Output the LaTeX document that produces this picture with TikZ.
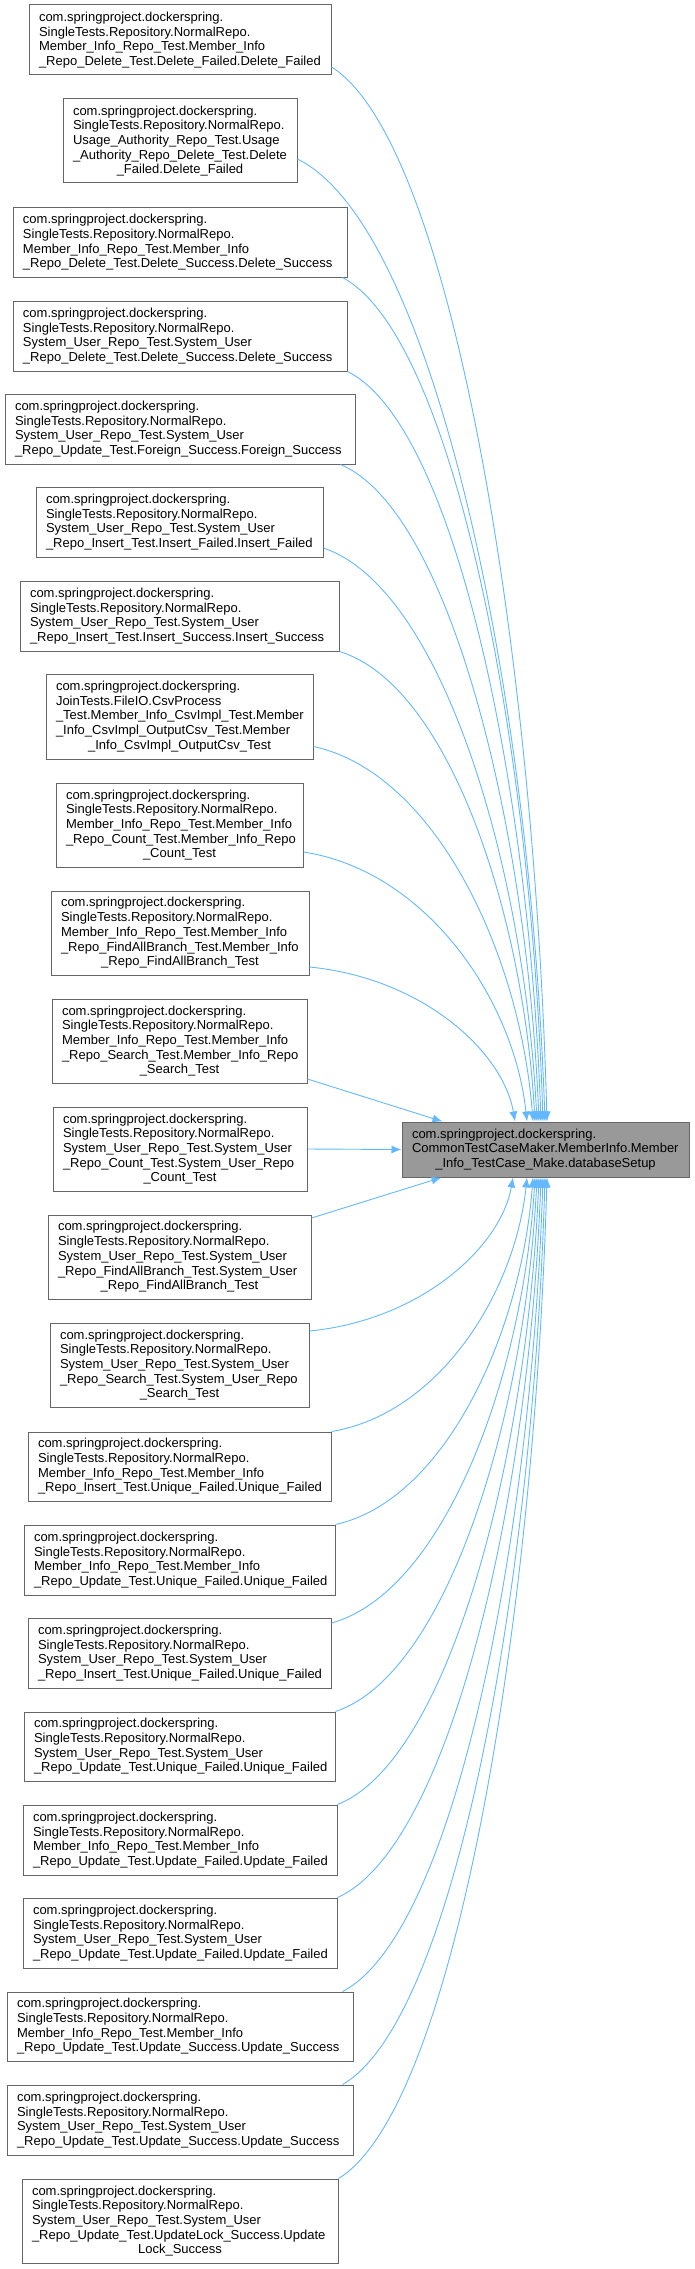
\documentclass[tikz,border=0pt]{standalone}
\usepackage{fontspec}
\setmainfont{Liberation Sans}
\usetikzlibrary{calc, arrows.meta}

\definecolor{edgeblue}{HTML}{63B8FF}
\definecolor{boxline}{HTML}{666666}
\definecolor{boxfill}{HTML}{999999}

\hyphenpenalty=10000
\exhyphenpenalty=10000

% last line of a box label is centred
\newcommand{\lastline}[1]{\hspace*{\fill}#1\hspace*{\fill}\null}

\tikzset{
  caller/.style={draw=boxline, fill=white, line width=1pt, align=left,
    inner xsep=10pt, inner ysep=2pt, font=\fontsize{13}{14.7}\selectfont},
  callee/.style={caller, fill=boxfill},
  calledge/.style={edgeblue, line width=0.9pt, -{Latex[length=10pt,width=8pt]}}
}

\begin{document}
\begin{tikzpicture}[x=1pt, y=-1pt]

\useasboundingbox (0,0) rectangle (695,2269);

% --- Common prefix of the caller names ---
\def\single{com.springproject.dockerspring.\\SingleTests.Repository.NormalRepo.\\}

% --- Called function ---
\node[callee, text width=267pt, minimum height=55pt] (tgt) at (545.5,1149.5)
  {com.springproject.dockerspring.\\CommonTestCaseMaker.MemberInfo.Member\\\lastline{\_Info\_TestCase\_Make.databaseSetup}};

% --- Callers ---
\node[caller, text width=282pt, minimum height=70pt] (c1) at (180,40)
  {\single Member\_Info\_Repo\_Test.Member\_Info\\\_Repo\_Delete\_Test.Delete\_Failed.Delete\_Failed};
\node[caller, text width=214pt, minimum height=84pt] (c2) at (180,141)
  {\single Usage\_Authority\_Repo\_Test.Usage\\\_Authority\_Repo\_Delete\_Test.Delete\\\lastline{\_Failed.Delete\_Failed}};
\node[caller, text width=314pt, minimum height=69pt] (c3) at (180,242.5)
  {\single Member\_Info\_Repo\_Test.Member\_Info\\\_Repo\_Delete\_Test.Delete\_Success.Delete\_Success};
\node[caller, text width=314pt, minimum height=70pt] (c4) at (180,336)
  {\single System\_User\_Repo\_Test.System\_User\\\_Repo\_Delete\_Test.Delete\_Success.Delete\_Success};
\node[caller, text width=330pt, minimum height=70pt] (c5) at (180,429)
  {\single System\_User\_Repo\_Test.System\_User\\\_Repo\_Update\_Test.Foreign\_Success.Foreign\_Success};
\node[caller, text width=267pt, minimum height=70pt] (c6) at (179.5,522)
  {\single System\_User\_Repo\_Test.System\_User\\\_Repo\_Insert\_Test.Insert\_Failed.Insert\_Failed};
\node[caller, text width=299pt, minimum height=70pt] (c7) at (179.5,616)
  {\single System\_User\_Repo\_Test.System\_User\\\_Repo\_Insert\_Test.Insert\_Success.Insert\_Success};
\node[caller, text width=247pt, minimum height=85pt] (c8) at (179.5,716.5)
  {com.springproject.dockerspring.\\JoinTests.FileIO.CsvProcess\\\_Test.Member\_Info\_CsvImpl\_Test.Member\\\_Info\_CsvImpl\_OutputCsv\_Test.Member\\\lastline{\_Info\_CsvImpl\_OutputCsv\_Test}};
\node[caller, text width=227pt, minimum height=84pt] (c9) at (179.5,825)
  {\single Member\_Info\_Repo\_Test.Member\_Info\\\_Repo\_Count\_Test.Member\_Info\_Repo\\\lastline{\_Count\_Test}};
\node[caller, text width=238pt, minimum height=84pt] (c10) at (180,933)
  {\single Member\_Info\_Repo\_Test.Member\_Info\\\_Repo\_FindAllBranch\_Test.Member\_Info\\\lastline{\_Repo\_FindAllBranch\_Test}};
\node[caller, text width=235pt, minimum height=84pt] (c11) at (179.5,1041)
  {\single Member\_Info\_Repo\_Test.Member\_Info\\\_Repo\_Search\_Test.Member\_Info\_Repo\\\lastline{\_Search\_Test}};
\node[caller, text width=234pt, minimum height=84pt] (c12) at (180,1149)
  {\single System\_User\_Repo\_Test.System\_User\\\_Repo\_Count\_Test.System\_User\_Repo\\\lastline{\_Count\_Test}};
\node[caller, text width=243pt, minimum height=84pt] (c13) at (179.5,1257)
  {\single System\_User\_Repo\_Test.System\_User\\\_Repo\_FindAllBranch\_Test.System\_User\\\lastline{\_Repo\_FindAllBranch\_Test}};
\node[caller, text width=239pt, minimum height=84pt] (c14) at (179.5,1365)
  {\single System\_User\_Repo\_Test.System\_User\\\_Repo\_Search\_Test.System\_User\_Repo\\\lastline{\_Search\_Test}};
\node[caller, text width=283pt, minimum height=69pt] (c15) at (179.5,1466.5)
  {\single Member\_Info\_Repo\_Test.Member\_Info\\\_Repo\_Insert\_Test.Unique\_Failed.Unique\_Failed};
\node[caller, text width=291pt, minimum height=70pt] (c16) at (179.5,1560)
  {\single Member\_Info\_Repo\_Test.Member\_Info\\\_Repo\_Update\_Test.Unique\_Failed.Unique\_Failed};
\node[caller, text width=283pt, minimum height=70pt] (c17) at (179.5,1653)
  {\single System\_User\_Repo\_Test.System\_User\\\_Repo\_Insert\_Test.Unique\_Failed.Unique\_Failed};
\node[caller, text width=291pt, minimum height=69pt] (c18) at (179.5,1746.5)
  {\single System\_User\_Repo\_Test.System\_User\\\_Repo\_Update\_Test.Unique\_Failed.Unique\_Failed};
\node[caller, text width=294pt, minimum height=70pt] (c19) at (180,1840)
  {\single Member\_Info\_Repo\_Test.Member\_Info\\\_Repo\_Update\_Test.Update\_Failed.Update\_Failed};
\node[caller, text width=294pt, minimum height=70pt] (c20) at (180,1933)
  {\single System\_User\_Repo\_Test.System\_User\\\_Repo\_Update\_Test.Update\_Failed.Update\_Failed};
\node[caller, text width=326pt, minimum height=69pt] (c21) at (180,2026.5)
  {\single Member\_Info\_Repo\_Test.Member\_Info\\\_Repo\_Update\_Test.Update\_Success.Update\_Success};
\node[caller, text width=326pt, minimum height=70pt] (c22) at (180,2120)
  {\single System\_User\_Repo\_Test.System\_User\\\_Repo\_Update\_Test.Update\_Success.Update\_Success};
\node[caller, text width=296pt, minimum height=84pt] (c23) at (180,2221)
  {\single System\_User\_Repo\_Test.System\_User\\\_Repo\_Update\_Test.UpdateLock\_Success.Update\\\lastline{Lock\_Success}};

% --- Curved calls: source/anchor/shift/first control/side/arrival/second control ---
\foreach \n/\anc/\sx/\sy/\ux/\uy/\side/\ex/\vx/\vy in {
  c1/east/0/27/119/74/north/1.5/-11.5/-475,
  c2/east/0/18/136/67/north/-0.5/-15.5/-433,
  c3/south east/-5/0/111/59/north/-2.5/-14.5/-380,
  c4/south east/0/0/107/53/north/-4.5/-16.5/-338,
  c5/south east/-15/0/109/46/north/-6.5/-18.5/-296,
  c6/east/0/26/118/40/north/-8.5/-21.5/-258,
  c7/south east/0/0/108/33/north/-10.5/-22.5/-212,
  c8/east/0/30/121/26/north/-12.5/-25.5/-169,
  c9/east/0/27/123/19/north/-18.5/-31.5/-122,
  c10/east/0/34/113/11/north/-30.5/-42.5/-70,
  c14/east/0/-34/112/-11/south/-32.5/-44.5/69,
  c15/north east/0/0/108/-18/south/-18.5/-30.5/115,
  c16/north east/0/0/109/-24/south/-12.5/-24.5/157,
  c17/east/0/-30/112/-31/south/-10.5/-22.5/201,
  c18/north east/0/0/111/-37/south/-8.5/-20.5/241,
  c19/north east/0/0/111/-44/south/-6.5/-18.5/283,
  c20/north east/0/0/112/-50/south/-4.5/-16.5/324,
  c21/north east/-11/0/111/-57/south/-2.5/-14.5/367,
  c22/north east/-11/0/112/-64/south/-0.5/-12.5/409,
  c23/north east/0/0/115/-70/south/1.5/-11.5/451} {
  \draw[calledge] ($(\n.\anc)+(\sx,\sy)$) .. controls +(\ux,\uy) and ($(tgt.\side)+(\vx,\vy)$) .. ($(tgt.\side)+(\ex,0)$);
}

% --- Straight calls ---
\draw[calledge] ($(c11.east)+(0,38)$) -- ($(tgt.north west)+(41,0)$);
\draw[calledge] (c12.east) -- (tgt.west);
\draw[calledge] ($(c13.east)+(0,-39)$) -- ($(tgt.south west)+(40,0)$);

\end{tikzpicture}
\end{document}
